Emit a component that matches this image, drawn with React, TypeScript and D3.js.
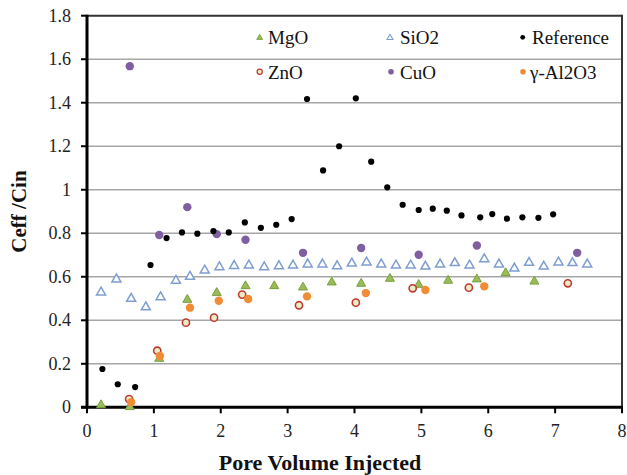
import React from "react";
import * as d3 from "d3";

const refX = [0.23, 0.46, 0.72, 0.95, 1.19, 1.42, 1.65, 1.89, 2.12, 2.36, 2.6, 2.83, 3.06, 3.29, 3.53, 3.77, 4.02, 4.25, 4.49, 4.72, 4.96, 5.17, 5.38, 5.6, 5.88, 6.06, 6.28, 6.51, 6.75, 6.97];
const refY = [0.176, 0.106, 0.093, 0.654, 0.778, 0.804, 0.798, 0.81, 0.804, 0.85, 0.825, 0.839, 0.865, 1.417, 1.089, 1.2, 1.42, 1.129, 1.011, 0.931, 0.907, 0.913, 0.904, 0.882, 0.873, 0.888, 0.867, 0.873, 0.871, 0.887];

const cuoX = [0.64, 1.08, 1.5, 1.94, 2.37, 3.23, 4.1, 4.96, 5.83, 7.33];
const cuoY = [1.568, 0.792, 0.92, 0.796, 0.77, 0.71, 0.732, 0.701, 0.744, 0.71];

const sio2X = [0.21, 0.44, 0.66, 0.88, 1.1, 1.33, 1.54, 1.76, 1.98, 2.2, 2.42, 2.65, 2.87, 3.08, 3.3, 3.52, 3.74, 3.96, 4.18, 4.4, 4.62, 4.84, 5.06, 5.28, 5.5, 5.72, 5.94, 6.16, 6.39, 6.61, 6.83, 7.05, 7.26, 7.48];
const sio2Y = [0.53, 0.59, 0.501, 0.462, 0.508, 0.584, 0.602, 0.631, 0.646, 0.652, 0.654, 0.646, 0.651, 0.654, 0.659, 0.659, 0.651, 0.663, 0.668, 0.659, 0.654, 0.654, 0.649, 0.659, 0.665, 0.654, 0.683, 0.659, 0.64, 0.666, 0.649, 0.668, 0.665, 0.659];

const mgoX = [0.21, 0.64, 1.08, 1.5, 1.94, 2.37, 2.8, 3.23, 3.66, 4.1, 4.53, 4.96, 5.4, 5.83, 6.26, 6.69];
const mgoY = [0.012, 0.003, 0.225, 0.496, 0.528, 0.559, 0.559, 0.553, 0.576, 0.57, 0.593, 0.565, 0.584, 0.59, 0.619, 0.58];

const znoX = [0.63, 1.05, 1.48, 1.9, 2.32, 3.17, 4.02, 4.87, 5.71, 7.19];
const znoY = [0.038, 0.26, 0.389, 0.412, 0.518, 0.469, 0.481, 0.547, 0.55, 0.57];

const alX = [0.66, 1.09, 1.54, 1.97, 2.41, 3.29, 4.17, 5.06, 5.94];
const alY = [0.023, 0.236, 0.458, 0.49, 0.498, 0.51, 0.525, 0.539, 0.556];

const xTicks = [0, 1, 2, 3, 4, 5, 6, 7, 8];
const yTicks = [0, 0.2, 0.4, 0.6, 0.8, 1, 1.2, 1.4, 1.6, 1.8];

const W = 627;
const H = 475;
const L = 87, R = 622, T = 15.7, B = 407.3;
const FONT = "'Liberation Serif', 'Times New Roman', serif";

const x = d3.scaleLinear().domain([0, 8]).range([L, R]);
const y = d3.scaleLinear().domain([0, 1.8]).range([B, T]);

const tri = (cx: number, cy: number, s: number) => {
  const h = s * 0.866;
  return `M${cx},${cy - h * 0.62}L${cx + s / 2},${cy + h * 0.38}L${cx - s / 2},${cy + h * 0.38}Z`;
};

export default function App() {
  const zip = (xs: number[], ys: number[]) => xs.map((v, i) => [v, ys[i]] as [number, number]);
  return (
    <svg width={W} height={H} style={{ position: "absolute", left: 0, top: 0, background: "#fff" }}>
      {/* gridlines */}
      {yTicks.filter((t) => t > 0 && t < 1.8).map((t) => (
        <line key={t} x1={L} x2={R} y1={y(t)} y2={y(t)} stroke="#a6a6a6" strokeWidth={1.5} />
      ))}
      {/* frame */}
      <line x1={L} x2={R} y1={T} y2={T} stroke="#333" strokeWidth={2} />
      <line x1={R} x2={R} y1={T - 1} y2={B} stroke="#333" strokeWidth={2} />
      {/* y ticks */}
      {yTicks.map((t) => (
        <g key={t}>
          <line x1={L - 6} x2={L} y1={y(t)} y2={y(t)} stroke="#000" strokeWidth={2} />
          <text x={71} y={y(t) + 6} textAnchor="end" fontFamily={FONT} fontSize={18} fill="#222">
            {d3.format("")(+t.toFixed(1))}
          </text>
        </g>
      ))}
      {/* x ticks */}
      {xTicks.map((t) => (
        <g key={t}>
          <line x1={x(t)} x2={x(t)} y1={B} y2={B + 6} stroke="#000" strokeWidth={2} />
          <text x={x(t)} y={437} textAnchor="middle" fontFamily={FONT} fontSize={18} fill="#222">
            {t}
          </text>
        </g>
      ))}
      {/* axes */}
      <line x1={L} x2={L} y1={T - 1} y2={B + 1.5} stroke="#000" strokeWidth={3} />
      <line x1={L - 6} x2={R + 1} y1={B} y2={B} stroke="#000" strokeWidth={3} />

      {/* series */}
      {zip(sio2X, sio2Y).map(([a, b], i) => (
        <path key={"s" + i} d={tri(x(a), y(b), 9)} fill="#fff" stroke="#7e9dd1" strokeWidth={1.5} />
      ))}
      {zip(mgoX, mgoY).map(([a, b], i) => (
        <path key={"m" + i} d={tri(x(a), y(b), 9)} fill="#9bbb59" stroke="#77a03a" strokeWidth={1} />
      ))}
      {zip(znoX, znoY).map(([a, b], i) => (
        <circle key={"z" + i} cx={x(a)} cy={y(b)} r={3.6} fill="#e8edc8" stroke="#c0392f" strokeWidth={1.6} />
      ))}
      {zip(alX, alY).map(([a, b], i) => (
        <circle key={"a" + i} cx={x(a)} cy={y(b)} r={4.2} fill="#f08c35" />
      ))}
      {zip(cuoX, cuoY).map(([a, b], i) => (
        <circle key={"c" + i} cx={x(a)} cy={y(b)} r={4.2} fill="#7f5fa0" />
      ))}
      {zip(refX, refY).map(([a, b], i) => (
        <circle key={"r" + i} cx={x(a)} cy={y(b)} r={3.1} fill="#000" />
      ))}

      {/* legend */}
      <path d={tri(259.7, 37.5, 6)} fill="#9bbb59" stroke="#77a03a" strokeWidth={0.8} />
      <text x={268} y={43.5} fontFamily={FONT} fontSize={19} fill="#111">MgO</text>
      <path d={tri(390, 37.5, 6)} fill="#fff" stroke="#7e9dd1" strokeWidth={1.1} />
      <text x={400} y={43.5} fontFamily={FONT} fontSize={19} fill="#111">SiO2</text>
      <circle cx={522.7} cy={37.3} r={2.4} fill="#000" />
      <text x={532} y={43.5} fontFamily={FONT} fontSize={19} fill="#111">Reference</text>

      <circle cx={259.7} cy={71.8} r={2.6} fill="#e8edc8" stroke="#c0392f" strokeWidth={1.2} />
      <text x={268} y={78.7} fontFamily={FONT} fontSize={19} fill="#111">ZnO</text>
      <circle cx={391} cy={71.8} r={2.8} fill="#7f5fa0" />
      <text x={400} y={78.7} fontFamily={FONT} fontSize={19} fill="#111">CuO</text>
      <circle cx={523} cy={71.8} r={2.8} fill="#f08c35" />
      <text x={530} y={78.7} fontFamily={FONT} fontSize={19} fill="#111">γ-Al2O3</text>

      {/* axis titles */}
      <text x={320} y={470} textAnchor="middle" fontFamily={FONT} fontSize={22} fontWeight="bold" fill="#111">
        Pore Volume Injected
      </text>
      <text
        transform={`translate(26,${(T + B) / 2}) rotate(-90)`}
        textAnchor="middle"
        fontFamily={FONT}
        fontSize={21}
        fontWeight="bold"
        fill="#111"
      >
        Ceff /Cin
      </text>
    </svg>
  );
}
